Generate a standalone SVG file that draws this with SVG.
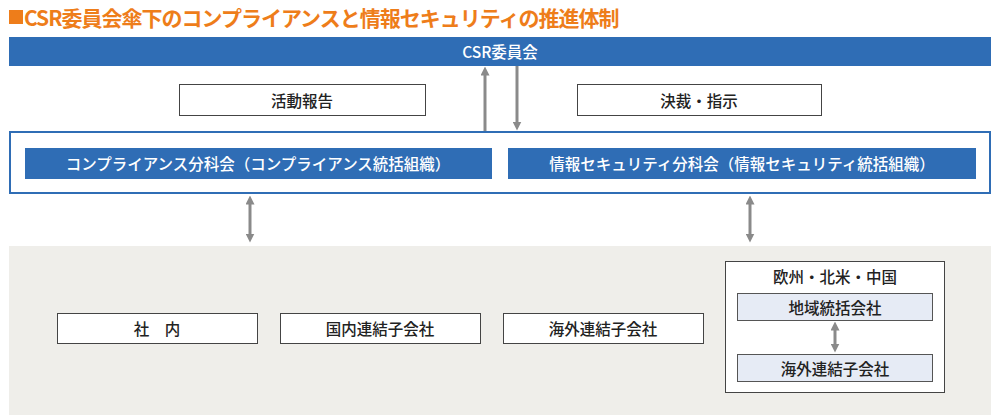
<svg xmlns="http://www.w3.org/2000/svg" width="1000" height="415" viewBox="0 0 1000 415">
<style>
text{font-family:"Noto Sans CJK JP","Noto Sans",sans-serif;text-anchor:middle;dominant-baseline:central}
.w{fill:#fff;font-size:15.5px;font-weight:500}
.k{fill:#222;font-size:15.5px;font-weight:500}
.wb{fill:#fff;stroke:#444;stroke-width:1}
.bb{fill:#2f6db5}
.lb{fill:#e6ebf5;stroke:#555;stroke-width:1}
.ar{stroke:#8a8a8a;stroke-width:3;fill:none}
</style>
<defs>
<marker id="h" viewBox="0 0 10 10" refX="5" refY="5" markerWidth="3" markerHeight="3" orient="auto-start-reverse"><path d="M0,0L10,5L0,10z" fill="#8a8a8a"/></marker>
</defs>
<rect x="9" y="10" width="14" height="14" fill="#ee7d1a"/>
<text x="24" y="17" style="text-anchor:start;fill:#ee7d1a;font-size:21px;font-weight:bold;letter-spacing:-1px">CSR委員会傘下のコンプライアンスと情報セキュリティの推進体制</text>
<rect x="9" y="246" width="982" height="169" fill="#efeeea"/>
<g id="csr"><rect class="bb" x="9" y="37" width="982" height="29"/><text class="w" x="500" y="51">CSR委員会</text></g>
<g id="report"><rect class="wb" x="179.5" y="84.5" width="246" height="31"/><text class="k" x="302" y="100">活動報告</text></g>
<g id="decision"><rect class="wb" x="577.5" y="84.5" width="244" height="31"/><text class="k" x="699" y="100">決裁・指示</text></g>
<g id="frame"><rect x="10" y="132" width="980" height="61" fill="#fff" stroke="#2f6db5" stroke-width="2"/></g>
<g id="comp"><rect class="bb" x="25" y="148" width="467" height="31"/><text class="w" x="258" y="163">コンプライアンス分科会（コンプライアンス統括組織）</text></g>
<g id="sec"><rect class="bb" x="508" y="148" width="468" height="31"/><text class="w" x="742" y="163">情報セキュリティ分科会（情報セキュリティ統括組織）</text></g>
<g id="inhouse"><rect class="wb" x="57.5" y="313.5" width="200" height="30"/><text class="k" x="157" y="328">社　内</text></g>
<g id="domestic"><rect class="wb" x="280.5" y="313.5" width="200" height="30"/><text class="k" x="380" y="328">国内連結子会社</text></g>
<g id="overseas"><rect class="wb" x="503.5" y="313.5" width="200" height="30"/><text class="k" x="603" y="328">海外連結子会社</text></g>
<g id="region"><rect class="wb" x="725.5" y="261.5" width="219" height="131"/><text class="k" x="835" y="276">欧州・北米・中国</text></g>
<g id="regional"><rect class="lb" x="737.5" y="293.5" width="195" height="27"/><text class="k" x="835" y="307">地域統括会社</text></g>
<g id="ovsub"><rect class="lb" x="737.5" y="354.5" width="195" height="27"/><text class="k" x="835" y="368">海外連結子会社</text></g>
<g id="connectors">
<line class="ar" x1="485" y1="131" x2="485" y2="71" marker-end="url(#h)"/>
<line class="ar" x1="517" y1="66" x2="517" y2="126" marker-end="url(#h)"/>
<line class="ar" x1="250" y1="200" x2="250" y2="238" marker-start="url(#h)" marker-end="url(#h)"/>
<line class="ar" x1="750" y1="200" x2="750" y2="238" marker-start="url(#h)" marker-end="url(#h)"/>
<line class="ar" x1="835" y1="326" x2="835" y2="348" marker-start="url(#h)" marker-end="url(#h)"/>
</g>
</svg>
